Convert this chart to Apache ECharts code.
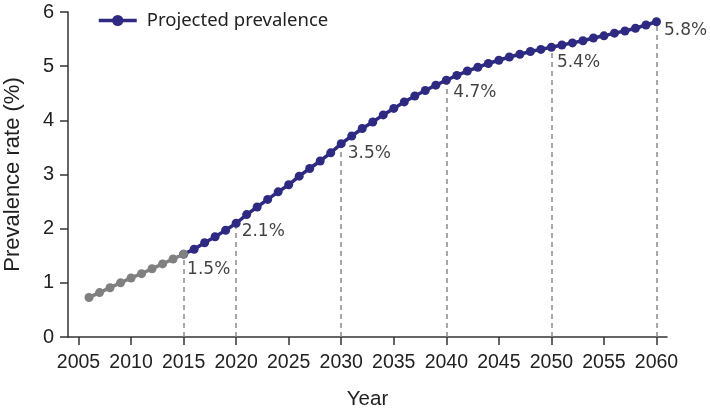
<!DOCTYPE html>
<html>
<head>
<meta charset="utf-8">
<script src="https://cdn.jsdelivr.net/npm/echarts@6/dist/echarts.min.js"></script>
<style>
html,body{margin:0;padding:0;background:#fff;}
#chart{width:710px;height:408px;}
</style>
</head>
<body>
<div id="chart"></div>
<script>
// ---- data ----
const axisYears = [];
for (let y = 2004; y <= 2061; y++) axisYears.push(String(y));
const xTickLabels = ['2005','2010','2015','2020','2025','2030','2035','2040','2045','2050','2055','2060'];
const yTickLabels = [0, 1, 2, 3, 4, 5, 6];

const observedYears = [2006,2007,2008,2009,2010,2011,2012,2013,2014,2015];
const observedValues = [0.73,0.82,0.91,1.00,1.09,1.17,1.26,1.35,1.44,1.53];

const projectedYears = [2015,2016,2017,2018,2019,2020,2021,2022,2023,2024,2025,2026,2027,2028,2029,2030,
  2031,2032,2033,2034,2035,2036,2037,2038,2039,2040,2041,2042,2043,2044,2045,2046,2047,2048,2049,2050,
  2051,2052,2053,2054,2055,2056,2057,2058,2059,2060];
const projectedValues = [1.53,1.62,1.74,1.85,1.97,2.10,2.26,2.40,2.54,2.68,2.81,2.97,3.11,3.25,3.40,3.57,
  3.71,3.85,3.97,4.10,4.22,4.34,4.45,4.55,4.65,4.74,4.83,4.91,4.98,5.05,5.11,5.17,5.22,5.27,5.31,5.35,
  5.39,5.43,5.47,5.52,5.56,5.61,5.65,5.70,5.76,5.82];

const annotYears = [2015, 2020, 2030, 2040, 2050, 2060];
const annotTexts = ['1.5%', '2.1%', '3.5%', '4.7%', '5.4%', '5.8%'];

// ---- layout/style (not data) ----
const annotOffsets = [[4,16],[6,9],[7,10],[7.5,12.5],[6,15.5],[8,9.5]];
const PURPLE = '#2e2a82';
const GRAY = '#808080';

const valueAt = (yr) => projectedValues[projectedYears.indexOf(yr)];

const observedData = observedYears.map((y, i) => [String(y), observedValues[i]]);
const projectedData = projectedYears.map((y, i) => [String(y), projectedValues[i]]);
const annotData = annotYears.map((y, i) => ({
  value: [String(y), valueAt(y)],
  label: { formatter: annotTexts[i], position: annotOffsets[i] }
}));
const markLines = annotYears.map(y => [
  { coord: [String(y), 0] },
  { coord: [String(y), valueAt(y)] }
]);

const chart = echarts.init(document.getElementById('chart'));
chart.setOption({
  animation: false,
  backgroundColor: '#fff',
  grid: { left: 68, right: 43, top: 12, bottom: 71, containLabel: false, outerBoundsMode: 'none' },
  legend: {
    data: ['Projected prevalence'],
    left: 92, top: 6,
    itemWidth: 38, itemHeight: 14,
    lineStyle: { width: 3.5 },
    textStyle: { fontFamily: 'Noto Sans', fontSize: 18.5, color: '#222', padding: [0,0,0,5] }
  },
  xAxis: {
    type: 'category',
    data: axisYears,
    boundaryGap: false,
    name: 'Year',
    nameLocation: 'middle',
    nameGap: 52,
    nameTextStyle: { fontFamily: 'Liberation Sans', fontSize: 20.5, color: '#222' },
    axisLine: { lineStyle: { color: '#333', width: 1.5 } },
    axisTick: {
      length: 8, lineStyle: { color: '#333', width: 1.5 },
      interval: (idx, val) => xTickLabels.indexOf(val) >= 0
    },
    axisLabel: {
      fontFamily: 'Liberation Sans', fontSize: 19.5, color: '#222', margin: 16,
      interval: (idx, val) => xTickLabels.indexOf(val) >= 0
    },
    splitLine: { show: false }
  },
  yAxis: {
    type: 'value',
    min: yTickLabels[0], max: yTickLabels[yTickLabels.length - 1], interval: 1,
    name: 'Prevalence rate (%)',
    nameLocation: 'middle',
    nameGap: 44,
    nameTextStyle: { fontFamily: 'Liberation Sans', fontSize: 22, color: '#222' },
    axisLine: { show: true, lineStyle: { color: '#333', width: 1.5 } },
    axisTick: { show: true, length: 8, lineStyle: { color: '#333', width: 1.5 } },
    axisLabel: { fontFamily: 'Liberation Sans', fontSize: 20, color: '#222', margin: 14 },
    splitLine: { show: false }
  },
  series: [
    {
      name: 'Projected prevalence',
      type: 'line',
      data: projectedData,
      symbol: 'circle',
      symbolSize: 9,
      showAllSymbol: true,
      lineStyle: { color: PURPLE, width: 3.5 },
      itemStyle: { color: PURPLE },
      z: 3,
      markLine: {
        silent: true,
        symbol: ['none', 'none'],
        label: { show: false },
        lineStyle: { color: '#8a8a8a', type: [5, 4], width: 1.5 },
        data: markLines,
        z: 1
      }
    },
    {
      name: 'Observed',
      type: 'line',
      data: observedData,
      symbol: 'circle',
      symbolSize: 9,
      showAllSymbol: true,
      lineStyle: { color: GRAY, width: 3.5 },
      itemStyle: { color: GRAY },
      z: 4
    },
    {
      name: 'labels',
      type: 'scatter',
      data: annotData,
      symbolSize: 1,
      itemStyle: { color: 'rgba(0,0,0,0)' },
      label: {
        show: true,
        align: 'left',
        verticalAlign: 'middle',
        fontFamily: 'DejaVu Sans',
        fontSize: 17,
        color: '#111'
      },
      z: 5,
      silent: true
    }
  ]
});
</script>
</body>
</html>
